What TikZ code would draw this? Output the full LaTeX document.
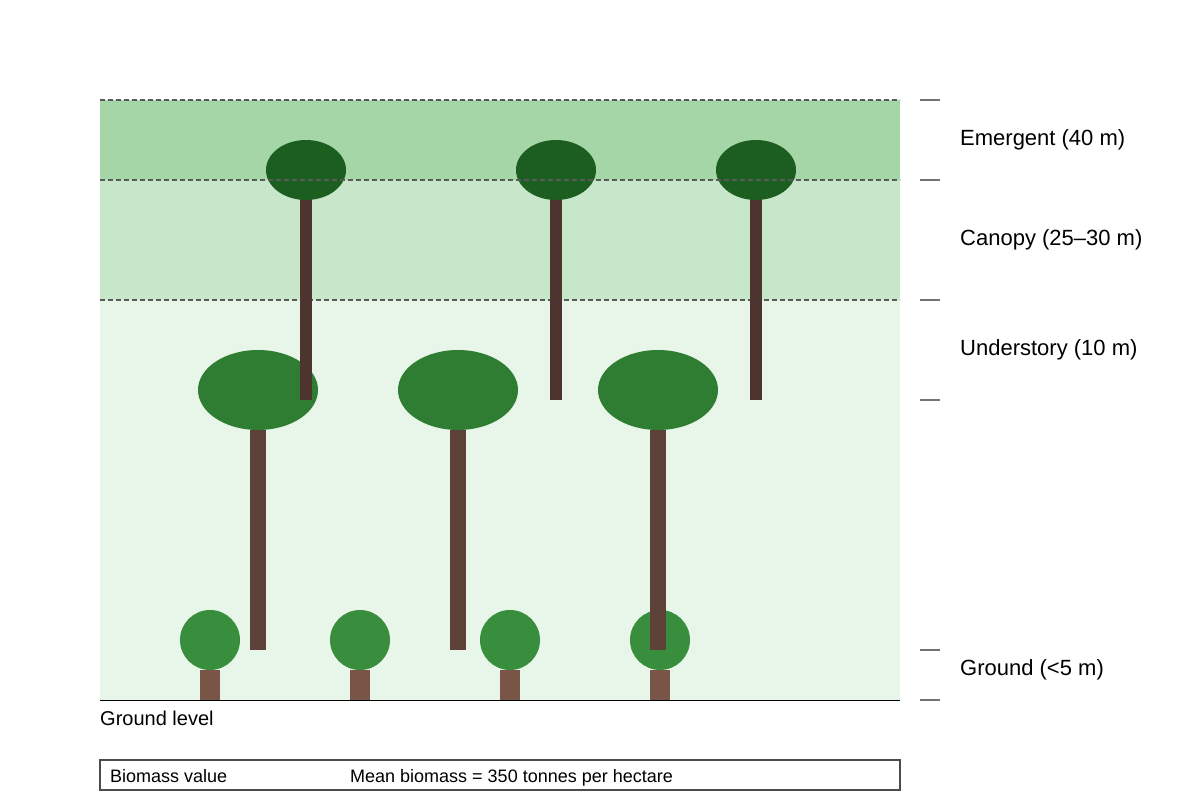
\documentclass[tikz,border=0pt]{standalone}
\usepackage{fontspec}
\setmainfont{Liberation Sans}
\begin{document}
\begin{tikzpicture}[x=1pt,y=-1pt,
  lbl/.style={anchor=base west,font=\fontsize{22}{26}\selectfont,inner sep=0},
  sm/.style={anchor=base west,font=\fontsize{18}{21}\selectfont,inner sep=0},
  bandline/.style={draw=black!65,dash pattern=on 5pt off 3pt,line width=1.5pt},
  tick/.style={draw=black!55,line width=1.5pt}]
\definecolor{em}{HTML}{A5D6A7}\definecolor{ca}{HTML}{C8E6C9}\definecolor{un}{HTML}{E8F5E9}
\definecolor{ec}{HTML}{1B5E20}\definecolor{et}{HTML}{4E342E}
\definecolor{uc}{HTML}{2E7D32}\definecolor{ut}{HTML}{5D4037}
\definecolor{gc}{HTML}{388E3C}\definecolor{gt}{HTML}{795548}
\useasboundingbox (0,0) rectangle (1200,800);
\fill[em] (100,100) rectangle (900,180);
\fill[ca] (100,180) rectangle (900,300);
\fill[un] (100,300) rectangle (900,700);
\foreach \y in {100,180,300} \draw[bandline] (100,\y) -- (900,\y);
\draw[black,line width=1pt] (100,700) -- (900,700);
\foreach \y in {100,180,300,400,650,700} \draw[tick] (920,\y) -- (940,\y);
\node[lbl] (l1) at (960,145) {Emergent (40 m)};
\node[lbl] (l2) at (960,245) {Canopy (25–30 m)};
\node[lbl] (l3) at (960,355) {Understory (10 m)};
\node[lbl] (l4) at (960,675) {Ground (<5 m)};
\foreach \x in {210,360,510,660} {
  \fill[gt] (\x-10,670) rectangle (\x+10,700);
  \fill[gc] (\x,640) circle (30);
}
\foreach \x in {258,458,658} {
  \fill[uc] (\x,390) ellipse (60 and 40);
  \fill[ut] (\x-8,430) rectangle (\x+8,650);
}
\foreach \x in {306,556,756} {
  \fill[et] (\x-6,170) rectangle (\x+6,400);
  \fill[ec] (\x,170) ellipse (40 and 30);
}
\draw[bandline] (100,180) -- (900,180);
\node[sm,font=\fontsize{20}{24}\selectfont] (gl) at (100,725) {Ground level};
\draw[black!70,line width=1.5pt] (100,760) rectangle (900,790);
\node[sm] (b1) at (110,782) {Biomass value};
\node[sm] (b2) at (350,782) {Mean biomass = 350 tonnes per hectare};
\end{tikzpicture}
\end{document}
